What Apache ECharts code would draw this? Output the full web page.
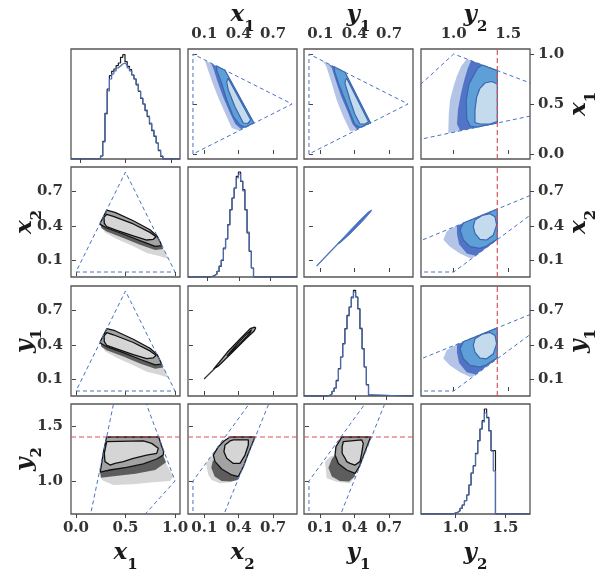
<!DOCTYPE html>
<html><head><meta charset="utf-8">
<script src="https://cdn.jsdelivr.net/npm/echarts@6/dist/echarts.min.js"></script>
<style>html,body{margin:0;padding:0;background:#fff}#c{width:607px;height:572px}</style>
</head><body><div id="c"></div>
<script>
// ---------------- data ----------------
const varNames = ['x1','x2','y1','y2'];
const topNames = ['x1','y1','y2'];           // labels printed above columns 2-4
const tickX1 = [0.0, 0.5, 1.0];
const tickX2 = [0.1, 0.4, 0.7];
const tickY1 = [0.1, 0.4, 0.7];
const tickY2 = [1.0, 1.5];
const offRangeX1 = [-0.05, 1.05], offRangeX2 = [-0.0433, 0.9093], offRangeY1 = [-0.0433, 0.9093], offRangeY2 = [0.7, 1.7];
const diagRangeX1 = [-0.1, 1.1], diagRangeX2 = [-0.0866, 0.9526], diagRangeY1 = [-0.0866, 0.9526], diagRangeY2 = [0.654, 1.746];
const histMax = 110;
const redLimit = 1.4;

// histograms: first bin edge, bin width, heights
const histX1Start = 0.225, histX1Width = 0.0245;
const histX1Black = [3,17.7,45.7,70,83.3,87.7,90,93.3,96,101.7,104.3,97.3,92.7,89.3,84,80,74,67.7,60.7,55,48.3,42.3,35,28.3,22.7,16,8.3,2.7];
const histX1Blue  = [3,17,45,68,80,85,88,91,93,95,96,94,91,88,84,80,75,68,61,55,49,43,36,29,23,16,9,3];
const histX2Start = 0.128, histX2Width = 0.0205;
const histX2Black = [0.7,1.7,3,5.7,10.7,16.7,29,38,52.3,67.3,79,89,100.7,105,95.7,87.3,67.3,44,25.7,9];
const histX2Blue  = [0.7,1.5,3,5.5,11,17,28,38,52,67,79,89,99,103,96,86,67,45,26,9];
const histY1Start = 0.139, histY1Width = 0.0205;
const histY1Black = [0.7,2,4.7,8,15.7,27.3,39,52.3,67.3,80.7,89,99,105.7,99,87.3,67.3,47.3,29,11.3,1];
const histY1Blue  = [0.7,2,4.5,8,15,27,39,52,67,80,89,98,104,99,87,68,47,29,11,1];
const histY2Start = 0.956, histY2Width = 0.0222;
const histY2Black = [0.3,1,1.7,3.3,5.7,9,13.3,19,29,41,48.3,60.7,73.3,85,93.3,105,96.7,83.3,63.3,63.3];
const histY2Blue  = [0.3,1,1.7,3.3,5.7,9,13.3,19,29,41,48,60,73,85,92,101,96,83,63,43];

// simplex boundary (x1, x2)
const triangleX1X2 = [[0,0],[1,0],[0.5,0.866],[0,0]];
// boundary lines (x, y2)
const lineX1Y2Left  = [[0.1255,0.6],[0.402,1.8]];
const lineX1Y2Right = [[0.6,0.6],[1.0,1.0],[0.669,1.8]];
const lineX2Y2Left  = [[0,0.6],[0,1.0],[0.561,1.8]];
const lineX2Y2Right = [[0.233,0.6],[0.701,1.8]];
const lineY1Y2Left  = [[0,0.6],[0,1.0],[0.558,1.8]];
const lineY1Y2Right = [[0.24,0.6],[0.70,1.8]];

// lower triangle (grey) samples: cloud, dense edge, outer contour, inner contour
const lowX1X2Cloud = [[0.243,0.416],[0.293,0.343],[0.411,0.286],[0.579,0.222],[0.714,0.164],[0.848,0.136],[0.932,0.112],[0.905,0.16],[0.88,0.205],[0.865,0.228],[0.80,0.222],[0.646,0.271],[0.478,0.329],[0.31,0.381],[0.249,0.41]];
const lowX1X2Dense = [[0.249,0.41],[0.31,0.381],[0.478,0.329],[0.646,0.271],[0.80,0.222],[0.865,0.228],[0.88,0.20],[0.80,0.19],[0.646,0.235],[0.478,0.295],[0.31,0.35],[0.255,0.38]];
const lowX1X2Outer = [[0.31,0.535],[0.394,0.517],[0.579,0.444],[0.747,0.366],[0.82,0.31],[0.852,0.255],[0.865,0.228],[0.80,0.222],[0.646,0.271],[0.478,0.329],[0.31,0.381],[0.249,0.41],[0.245,0.424]];
const lowX1X2Inner = [[0.31,0.50],[0.377,0.482],[0.579,0.416],[0.747,0.343],[0.808,0.306],[0.781,0.283],[0.714,0.277],[0.579,0.312],[0.411,0.361],[0.31,0.392],[0.286,0.424],[0.283,0.473]];
const lowX1Y1Cloud = [[0.243,0.42],[0.293,0.345],[0.411,0.288],[0.579,0.224],[0.714,0.166],[0.848,0.138],[0.932,0.114],[0.905,0.162],[0.88,0.207],[0.865,0.232],[0.80,0.226],[0.646,0.275],[0.478,0.333],[0.31,0.385],[0.249,0.414]];
const lowX1Y1Dense = [[0.249,0.414],[0.31,0.385],[0.478,0.333],[0.646,0.275],[0.80,0.226],[0.865,0.232],[0.88,0.203],[0.80,0.193],[0.646,0.238],[0.478,0.298],[0.31,0.353],[0.255,0.383]];
const lowX1Y1Outer = [[0.312,0.54],[0.394,0.522],[0.579,0.448],[0.747,0.37],[0.82,0.314],[0.852,0.258],[0.865,0.232],[0.80,0.226],[0.646,0.275],[0.478,0.333],[0.31,0.385],[0.249,0.414],[0.246,0.428]];
const lowX1Y1Inner = [[0.312,0.505],[0.377,0.487],[0.579,0.42],[0.747,0.347],[0.808,0.31],[0.781,0.287],[0.714,0.281],[0.579,0.316],[0.411,0.365],[0.31,0.396],[0.286,0.428],[0.284,0.478]];
const lowX2Y1Tail  = [[0.097,0.104],[0.19,0.195]];
const lowX2Y1Outer = [[0.18,0.19],[0.30,0.335],[0.42,0.46],[0.50,0.54],[0.54,0.553],[0.548,0.545],[0.535,0.52],[0.46,0.45],[0.34,0.33],[0.22,0.215]];
const lowX2Y1Inner = [[0.30,0.305],[0.38,0.40],[0.46,0.485],[0.51,0.528],[0.50,0.505],[0.42,0.42],[0.34,0.34]];
const lowX1Y2Cloud = [[0.243,1.085],[0.26,1.009],[0.377,0.964],[0.579,0.97],[0.781,0.988],[0.949,1.0],[0.983,1.04],[0.899,1.176],[0.88,1.235],[0.815,1.2],[0.68,1.155],[0.512,1.124],[0.344,1.10],[0.245,1.08]];
const lowX1Y2Dense = [[0.245,1.08],[0.344,1.10],[0.512,1.124],[0.68,1.155],[0.815,1.2],[0.88,1.235],[0.91,1.17],[0.80,1.10],[0.60,1.065],[0.40,1.045],[0.25,1.03]];
const lowX1Y2Outer = [[0.31,1.4],[0.835,1.4],[0.86,1.33],[0.885,1.265],[0.88,1.235],[0.815,1.2],[0.68,1.155],[0.512,1.124],[0.344,1.10],[0.245,1.08],[0.275,1.25]];
const lowX1Y2Inner = [[0.31,1.358],[0.68,1.364],[0.764,1.342],[0.831,1.297],[0.815,1.251],[0.714,1.236],[0.579,1.206],[0.478,1.176],[0.394,1.161],[0.344,1.145],[0.293,1.176],[0.286,1.251],[0.303,1.327]];
const lowX2Y2Cloud = [[0.115,1.155],[0.134,1.055],[0.164,1.009],[0.236,0.979],[0.324,0.988],[0.388,1.009],[0.397,1.04],[0.339,1.055],[0.251,1.109],[0.193,1.176],[0.178,1.236],[0.14,1.20]];
const lowX2Y2Dense = [[0.16,1.12],[0.19,1.04],[0.25,1.0],[0.33,0.995],[0.39,1.01],[0.397,1.04],[0.339,1.055],[0.251,1.109],[0.193,1.176],[0.175,1.19]];
const lowX2Y2Outer = [[0.324,1.4],[0.542,1.4],[0.49,1.267],[0.44,1.13],[0.397,1.04],[0.339,1.055],[0.251,1.109],[0.193,1.176],[0.178,1.236],[0.222,1.312],[0.271,1.364]];
const lowX2Y2Inner = [[0.353,1.373],[0.484,1.373],[0.484,1.327],[0.455,1.236],[0.411,1.16],[0.353,1.16],[0.295,1.206],[0.271,1.267],[0.28,1.327],[0.324,1.364]];
const lowY1Y2Cloud = [[0.14,1.176],[0.155,1.024],[0.242,0.994],[0.359,0.979],[0.403,1.04],[0.403,1.07],[0.33,1.10],[0.257,1.16],[0.228,1.236],[0.184,1.22]];
const lowY1Y2Dense = [[0.17,1.12],[0.20,1.04],[0.27,1.0],[0.35,0.995],[0.40,1.04],[0.403,1.07],[0.33,1.10],[0.257,1.16],[0.228,1.236],[0.20,1.2]];
const lowY1Y2Outer = [[0.286,1.4],[0.539,1.4],[0.49,1.267],[0.44,1.13],[0.403,1.07],[0.33,1.10],[0.257,1.16],[0.228,1.236],[0.236,1.312],[0.27,1.37]];
const lowY1Y2Inner = [[0.30,1.358],[0.461,1.373],[0.475,1.343],[0.461,1.252],[0.446,1.176],[0.403,1.145],[0.359,1.16],[0.33,1.176],[0.316,1.206],[0.29,1.252],[0.29,1.31]];

// upper triangle (blue) samples, given as (x-axis value, y-axis value)
const upX2X1Cloud = [[0.105,0.935],[0.28,0.838],[0.532,0.313],[0.50,0.292],[0.40,0.235],[0.34,0.26],[0.295,0.373],[0.23,0.54],[0.172,0.707],[0.12,0.88]];
const upX2X1Dense = [[0.16,0.905],[0.28,0.838],[0.532,0.313],[0.50,0.292],[0.42,0.25],[0.37,0.30],[0.32,0.42],[0.26,0.58],[0.21,0.74],[0.18,0.85]];
const upX2X1Outer = [[0.207,0.88],[0.28,0.838],[0.532,0.313],[0.50,0.292],[0.455,0.268],[0.411,0.29],[0.353,0.373],[0.295,0.54],[0.25,0.707],[0.207,0.84]];
const upX2X1Inner = [[0.295,0.72],[0.307,0.757],[0.505,0.34],[0.48,0.305],[0.44,0.31],[0.367,0.473],[0.309,0.64]];
const upY1X1Cloud = [[0.12,0.93],[0.315,0.818],[0.539,0.31],[0.50,0.29],[0.40,0.235],[0.36,0.23],[0.30,0.373],[0.242,0.54],[0.199,0.707],[0.15,0.88]];
const upY1X1Dense = [[0.17,0.90],[0.315,0.818],[0.539,0.31],[0.50,0.292],[0.42,0.245],[0.38,0.30],[0.34,0.42],[0.28,0.58],[0.23,0.75],[0.20,0.86]];
const upY1X1Outer = [[0.22,0.873],[0.315,0.818],[0.539,0.31],[0.50,0.292],[0.446,0.265],[0.40,0.30],[0.373,0.373],[0.315,0.54],[0.257,0.707],[0.225,0.82]];
const upY1X1Inner = [[0.32,0.74],[0.33,0.757],[0.521,0.323],[0.49,0.30],[0.446,0.30],[0.40,0.40],[0.359,0.54],[0.315,0.707]];
const upY2X1Cloud = [[1.119,0.951],[1.4,0.834],[1.4,0.31],[1.0,0.218],[0.95,0.21],[0.955,0.4],[0.966,0.54],[1.0,0.68],[1.027,0.773],[1.07,0.88]];
const upY2X1Dense = [[1.16,0.934],[1.4,0.834],[1.4,0.31],[1.06,0.232],[1.03,0.30],[1.04,0.45],[1.07,0.62],[1.10,0.75],[1.13,0.86]];
const upY2X1Outer = [[1.26,0.89],[1.4,0.834],[1.4,0.31],[1.21,0.268],[1.15,0.28],[1.12,0.35],[1.115,0.54],[1.14,0.70],[1.19,0.80],[1.22,0.86]];
const upY2X1Inner = [[1.241,0.657],[1.287,0.71],[1.348,0.725],[1.4,0.70],[1.4,0.325],[1.333,0.30],[1.241,0.30],[1.195,0.315],[1.195,0.44],[1.211,0.573]];
const upY1X2Tail = [[0.067,0.052],[0.27,0.262]];
const upY1X2Band = [[0.25,0.245],[0.35,0.35],[0.45,0.455],[0.52,0.522],[0.548,0.537],[0.54,0.52],[0.46,0.43],[0.36,0.33],[0.27,0.25]];
const upY2X2Cloud = [[0.99,0.384],[1.4,0.545],[1.4,0.28],[1.18,0.126],[1.15,0.12],[1.058,0.16],[0.966,0.219],[0.905,0.28],[0.935,0.35]];
const upY2X2Dense = [[1.03,0.40],[1.4,0.545],[1.4,0.28],[1.2,0.14],[1.12,0.16],[1.05,0.24],[1.03,0.33]];
const upY2X2Outer = [[1.088,0.424],[1.4,0.545],[1.4,0.286],[1.302,0.225],[1.241,0.205],[1.15,0.22],[1.088,0.277],[1.058,0.364]];
const upY2X2Inner = [[1.195,0.45],[1.26,0.49],[1.333,0.505],[1.379,0.479],[1.394,0.407],[1.364,0.321],[1.302,0.277],[1.241,0.283],[1.195,0.335],[1.18,0.393]];
const upY2Y1Cloud = [[0.99,0.386],[1.4,0.547],[1.4,0.282],[1.18,0.128],[1.15,0.122],[1.058,0.162],[0.966,0.221],[0.905,0.282],[0.935,0.352]];
const upY2Y1Dense = [[1.03,0.402],[1.4,0.547],[1.4,0.282],[1.2,0.142],[1.12,0.162],[1.05,0.242],[1.03,0.332]];
const upY2Y1Outer = [[1.088,0.426],[1.4,0.547],[1.4,0.288],[1.302,0.227],[1.241,0.207],[1.15,0.222],[1.088,0.279],[1.058,0.366]];
const upY2Y1Inner = [[1.195,0.452],[1.26,0.492],[1.333,0.507],[1.379,0.481],[1.394,0.409],[1.364,0.323],[1.302,0.279],[1.241,0.285],[1.195,0.337],[1.18,0.395]];

// ---------------- layout & style ----------------
const colLeft = [71, 188, 304, 421], rowTop = [49, 167, 286, 404], panelW = 109, panelH = 110;
const FONT = 'DejaVu Serif';
const blueLine = '#4a72c0', redLine = '#d9545c';
const ranges = {off:{x1:offRangeX1,x2:offRangeX2,y1:offRangeY1,y2:offRangeY2}, diag:{x1:diagRangeX1,x2:diagRangeX2,y1:diagRangeY1,y2:diagRangeY2}};
const ticks = {x1:tickX1,x2:tickX2,y1:tickY1,y2:tickY2};
const hists = {
  x1:[histX1Start,histX1Width,histX1Black,histX1Blue],
  x2:[histX2Start,histX2Width,histX2Black,histX2Blue],
  y1:[histY1Start,histY1Width,histY1Black,histY1Blue],
  y2:[histY2Start,histY2Width,histY2Black,histY2Blue]};

const rich = {
  v:{fontFamily:FONT, fontStyle:'italic', fontWeight:'bold', fontSize:23, color:'#1a1a1a', lineHeight:28},
  s:{fontFamily:FONT, fontWeight:'bold', fontSize:15, color:'#1a1a1a', lineHeight:28, verticalAlign:'bottom', padding:[0,0,-6,0]}
};
const nm = v => `{v|${v[0]}}{s|${v[1]}}`;
const labelStyle = {fontFamily:FONT, fontWeight:'bold', fontSize:15, color:'#333'};

const T = a => a.map(p => [p[1], p[0]]);
function poly(gi, pts, fill, stroke, lw){
  return {type:'custom', coordinateSystem:'cartesian2d', xAxisIndex:gi, yAxisIndex:gi, clip:true, silent:true, animation:false,
    data: pts, encode:{x:0, y:1},
    renderItem:(params, api) => {
      if (params.dataIndex !== 0) return null;
      return {type:'polygon', shape:{points: pts.map(p => api.coord(p))},
        style:{fill: fill, stroke: stroke || null, lineWidth: lw || 0, lineJoin:'round'}};
    }};
}
function line(gi, pts, color, width, type){
  return {type:'line', xAxisIndex:gi, yAxisIndex:gi, data: pts, symbol:'none', showSymbol:false, clip:true,
    silent:true, animation:false, lineStyle:{color, width, type: type || 'solid'}};
}
function histPts(v, heights, xr){
  const [start, w] = hists[v];
  const pts = [[xr[0],0],[start,0]];
  heights.forEach((h,i) => { pts.push([start+i*w, h], [start+(i+1)*w, h]); });
  pts.push([start+heights.length*w, 0], [xr[1], 0]);
  return pts;
}
function lowerSet(gi, cloud, dense, outer, inner){
  const s = [];
  if (cloud) s.push(poly(gi, cloud, 'rgba(0,0,0,0.16)'));
  if (dense) s.push(poly(gi, dense, 'rgba(20,20,20,0.62)'));
  s.push(poly(gi, outer, '#a3a3a3', '#111', 1.3));
  s.push(poly(gi, inner, '#d5d5d5', '#111', 1.3));
  return s;
}
function upperSet(gi, cloud, dense, outer, inner){
  return [
    poly(gi, cloud, 'rgba(74,114,196,0.42)'),
    poly(gi, dense, 'rgba(70,108,194,0.9)'),
    poly(gi, outer, '#5d9fd6', '#3b66b0', 1.2),
    poly(gi, inner, '#c4dbee', '#3b66b0', 1.2)];
}

const grids = [], xAxes = [], yAxes = [], series = [];
for (let r = 0; r < 4; r++) for (let c = 0; c < 4; c++) {
  const gi = r*4 + c, vx = varNames[c], vy = varNames[r];
  const diag = r === c, upper = r < c;
  const xr = diag ? ranges.diag[vx] : ranges.off[vx];
  grids.push({left: colLeft[c], top: rowTop[r], width: panelW, height: panelH, show: true,
    containLabel: false, outerBoundsMode: 'none',
    borderColor: '#555', borderWidth: 1.3, backgroundColor: 'transparent'});
  const showXLab = (r === 3) || (r === 0 && upper);
  let xName = '';
  if (r === 3) xName = nm(vx);
  else if (r === 0 && upper) xName = nm(topNames[c-1]);
  xAxes.push({type:'value', gridIndex: gi, min: xr[0], max: xr[1], position: upper ? 'top' : 'bottom',
    axisLine:{show:false}, splitLine:{show:false},
    axisTick:{show:true, customValues: ticks[vx], length:4, lineStyle:{color:'#444', width:1}},
    axisLabel:{show: showXLab, customValues: ticks[vx], formatter: v => v.toFixed(1), margin: 7, ...labelStyle},
    name: xName, nameLocation:'middle', nameMoveOverlap: false, nameGap: upper ? 20 : 25, nameTextStyle:{rich}});
  if (diag) {
    yAxes.push({type:'value', gridIndex: gi, min: 0, max: histMax, show: false});
  } else {
    const yr = ranges.off[vy];
    const showYLab = upper ? c === 3 : c === 0;
    yAxes.push({type:'value', gridIndex: gi, min: yr[0], max: yr[1], position: upper ? 'right' : 'left',
      axisLine:{show:false}, splitLine:{show:false},
      axisTick:{show:true, customValues: ticks[vy], length:4, lineStyle:{color:'#444', width:1}},
      axisLabel:{show: showYLab, customValues: ticks[vy], formatter: v => v.toFixed(1), margin: 8, ...labelStyle},
      name: showYLab ? nm(vy) : '', nameLocation:'middle', nameRotate: 90, nameMoveOverlap: false,
      nameGap: upper ? 35 : 32, nameTextStyle:{rich}});
  }
  if (diag) {
    const h = hists[vx];
    series.push(line(gi, histPts(vx, h[2], xr), '#1e1e1e', 1.2));
    series.push(line(gi, histPts(vx, h[3], xr), '#4a6cb3', 1.2));
  }
}
const G = (r,c) => r*4 + c;
// lower triangle
series.push(...lowerSet(G(1,0), lowX1X2Cloud, lowX1X2Dense, lowX1X2Outer, lowX1X2Inner), line(G(1,0), triangleX1X2, blueLine, 1, [4,3]));
series.push(...lowerSet(G(2,0), lowX1Y1Cloud, lowX1Y1Dense, lowX1Y1Outer, lowX1Y1Inner), line(G(2,0), triangleX1X2, blueLine, 1, [4,3]));
series.push(line(G(2,1), lowX2Y1Tail, '#333', 1.2), ...lowerSet(G(2,1), null, null, lowX2Y1Outer, lowX2Y1Inner));
series.push(...lowerSet(G(3,0), lowX1Y2Cloud, lowX1Y2Dense, lowX1Y2Outer, lowX1Y2Inner),
  line(G(3,0), lineX1Y2Left, blueLine, 1, [4,3]), line(G(3,0), lineX1Y2Right, blueLine, 1, [4,3]),
  line(G(3,0), [[offRangeX1[0], redLimit],[offRangeX1[1], redLimit]], redLine, 1.2, [5,3]));
series.push(...lowerSet(G(3,1), lowX2Y2Cloud, lowX2Y2Dense, lowX2Y2Outer, lowX2Y2Inner),
  line(G(3,1), lineX2Y2Left, blueLine, 1, [4,3]), line(G(3,1), lineX2Y2Right, blueLine, 1, [4,3]),
  line(G(3,1), [[offRangeX2[0], redLimit],[offRangeX2[1], redLimit]], redLine, 1.2, [5,3]));
series.push(...lowerSet(G(3,2), lowY1Y2Cloud, lowY1Y2Dense, lowY1Y2Outer, lowY1Y2Inner),
  line(G(3,2), lineY1Y2Left, blueLine, 1, [4,3]), line(G(3,2), lineY1Y2Right, blueLine, 1, [4,3]),
  line(G(3,2), [[offRangeY1[0], redLimit],[offRangeY1[1], redLimit]], redLine, 1.2, [5,3]));
// upper triangle
series.push(...upperSet(G(0,1), upX2X1Cloud, upX2X1Dense, upX2X1Outer, upX2X1Inner), line(G(0,1), T(triangleX1X2), blueLine, 1, [4,3]));
series.push(...upperSet(G(0,2), upY1X1Cloud, upY1X1Dense, upY1X1Outer, upY1X1Inner), line(G(0,2), T(triangleX1X2), blueLine, 1, [4,3]));
series.push(...upperSet(G(0,3), upY2X1Cloud, upY2X1Dense, upY2X1Outer, upY2X1Inner),
  line(G(0,3), T(lineX1Y2Left), blueLine, 1, [4,3]), line(G(0,3), T(lineX1Y2Right), blueLine, 1, [4,3]),
  line(G(0,3), [[redLimit, offRangeX1[0]],[redLimit, offRangeX1[1]]], redLine, 1.2, [5,3]));
series.push(line(G(1,2), upY1X2Tail, '#4a72c4', 1.2), poly(G(1,2), upY1X2Band, '#4a72c4', '#4a72c4', 0.8));
series.push(...upperSet(G(1,3), upY2X2Cloud, upY2X2Dense, upY2X2Outer, upY2X2Inner),
  line(G(1,3), T(lineX2Y2Left), blueLine, 1, [4,3]), line(G(1,3), T(lineX2Y2Right), blueLine, 1, [4,3]),
  line(G(1,3), [[redLimit, offRangeX2[0]],[redLimit, offRangeX2[1]]], redLine, 1.2, [5,3]));
series.push(...upperSet(G(2,3), upY2Y1Cloud, upY2Y1Dense, upY2Y1Outer, upY2Y1Inner),
  line(G(2,3), T(lineY1Y2Left), blueLine, 1, [4,3]), line(G(2,3), T(lineY1Y2Right), blueLine, 1, [4,3]),
  line(G(2,3), [[redLimit, offRangeY1[0]],[redLimit, offRangeY1[1]]], redLine, 1.2, [5,3]));

const chart = echarts.init(document.getElementById('c'), null, {renderer:'canvas', width:607, height:572});
chart.setOption({animation:false, backgroundColor:'#fff', grid: grids, xAxis: xAxes, yAxis: yAxes, series});
</script></body></html>
